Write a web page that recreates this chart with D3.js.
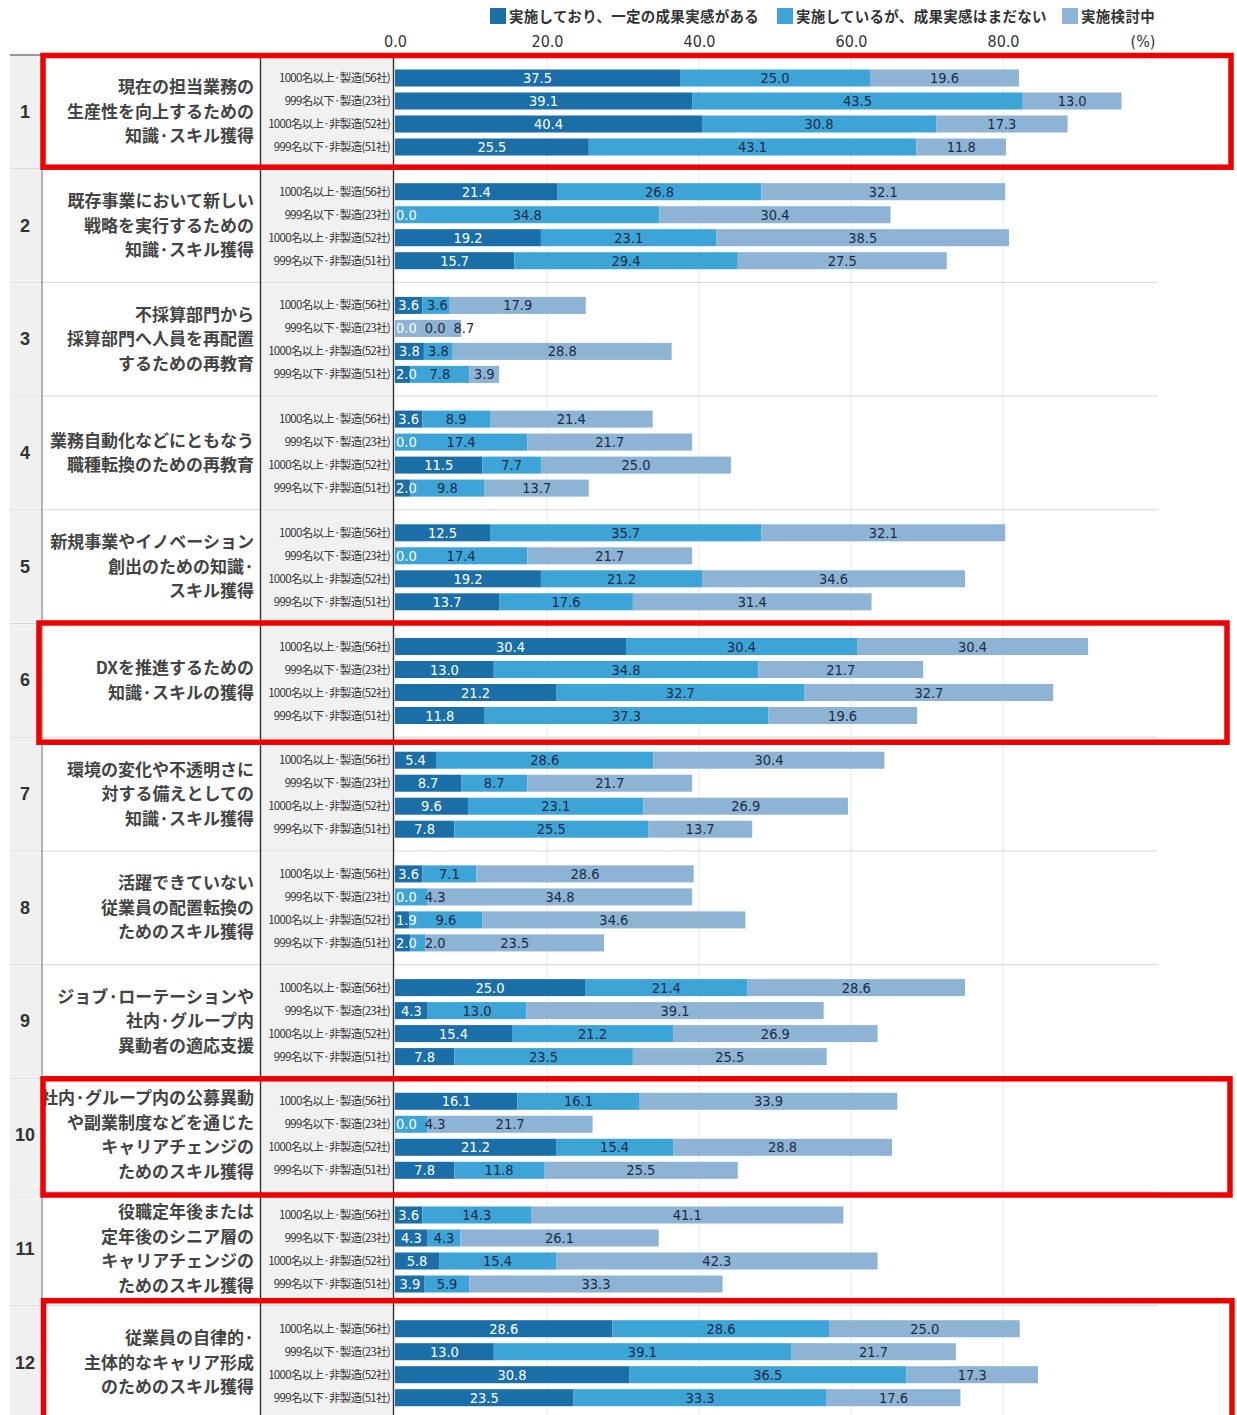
<!DOCTYPE html>
<html lang="ja">
<head>
<meta charset="utf-8">
<script src="https://cdn.jsdelivr.net/npm/d3@7"></script>
<style>
  html, body { margin: 0; padding: 0; background: #fff; }
  svg { display: block; }
  .num { font-family: "Liberation Sans Narrow", "DejaVu Sans Condensed", "Liberation Sans", sans-serif; }
  .jp { font-family: "Noto Sans CJK JP", "Noto Sans", sans-serif; }
</style>
</head>
<body>
<svg id="chart" width="1237" height="1415"></svg>
<script>
// Survey items (line-broken as displayed)
const categories = [
  ["現在の担当業務の", "生産性を向上するための", "知識·スキル獲得"],
  ["既存事業において新しい", "戦略を実行するための", "知識·スキル獲得"],
  ["不採算部門から", "採算部門へ人員を再配置", "するための再教育"],
  ["業務自動化などにともなう", "職種転換のための再教育"],
  ["新規事業やイノベーション", "創出のための知識·", "スキル獲得"],
  ["DXを推進するための", "知識·スキルの獲得"],
  ["環境の変化や不透明さに", "対する備えとしての", "知識·スキル獲得"],
  ["活躍できていない", "従業員の配置転換の", "ためのスキル獲得"],
  ["ジョブ·ローテーションや", "社内·グループ内", "異動者の適応支援"],
  ["社内·グループ内の公募異動", "や副業制度などを通じた", "キャリアチェンジの", "ためのスキル獲得"],
  ["役職定年後または", "定年後のシニア層の", "キャリアチェンジの", "ためのスキル獲得"],
  ["従業員の自律的·", "主体的なキャリア形成", "のためのスキル獲得"]
];

// Respondent segments
const subgroups = [
  "1000名以上·製造(56社)",
  "999名以下·製造(23社)",
  "1000名以上·非製造(52社)",
  "999名以下·非製造(51社)"
];

const seriesNames = [
  "実施しており、一定の成果実感がある",
  "実施しているが、成果実感はまだない",
  "実施検討中"
];

// Values (%) per item, one entry per segment
const achieved = [
  [37.5, 39.1, 40.4, 25.5],
  [21.4, 0.0, 19.2, 15.7],
  [3.6, 0.0, 3.8, 2.0],
  [3.6, 0.0, 11.5, 2.0],
  [12.5, 0.0, 19.2, 13.7],
  [30.4, 13.0, 21.2, 11.8],
  [5.4, 8.7, 9.6, 7.8],
  [3.6, 0.0, 1.9, 2.0],
  [25.0, 4.3, 15.4, 7.8],
  [16.1, 0.0, 21.2, 7.8],
  [3.6, 4.3, 5.8, 3.9],
  [28.6, 13.0, 30.8, 23.5]
];
const noResultYet = [
  [25.0, 43.5, 30.8, 43.1],
  [26.8, 34.8, 23.1, 29.4],
  [3.6, 0.0, 3.8, 7.8],
  [8.9, 17.4, 7.7, 9.8],
  [35.7, 17.4, 21.2, 17.6],
  [30.4, 34.8, 32.7, 37.3],
  [28.6, 8.7, 23.1, 25.5],
  [7.1, 4.3, 9.6, 2.0],
  [21.4, 13.0, 21.2, 23.5],
  [16.1, 4.3, 15.4, 11.8],
  [14.3, 4.3, 15.4, 5.9],
  [28.6, 39.1, 36.5, 33.3]
];
const considering = [
  [19.6, 13.0, 17.3, 11.8],
  [32.1, 30.4, 38.5, 27.5],
  [17.9, 8.7, 28.8, 3.9],
  [21.4, 21.7, 25.0, 13.7],
  [32.1, 21.7, 34.6, 31.4],
  [30.4, 21.7, 32.7, 19.6],
  [30.4, 21.7, 26.9, 13.7],
  [28.6, 34.8, 34.6, 23.5],
  [28.6, 39.1, 26.9, 25.5],
  [33.9, 21.7, 28.8, 25.5],
  [41.1, 26.1, 42.3, 33.3],
  [25.0, 21.7, 17.3, 17.6]
];

const tickValues = [0, 20, 40, 60, 80];
// Items outlined for emphasis
const highlighted = [0, 5, 9, 11];

const colors = ["#1b6fa9", "#3ca4d6", "#8db3d5"];
const labelColors = ["#ffffff", "#1e2b46", "#1e2b46"];

const svg = d3.select("#chart");

const x = d3.scaleLinear().domain([0, 80]).range([395, 1003]);
const groupStep = 113.7;
const y = d3.scaleBand()
  .domain(d3.range(categories.length))
  .range([55, 55 + groupStep * categories.length])
  .paddingInner(0).paddingOuter(0);
const ySub = d3.scaleBand()
  .domain(d3.range(subgroups.length))
  .range([11.5, 103.5])
  .paddingInner(0.26).paddingOuter(0.13);

const gridRight = 1158;

// Column backgrounds
const bg = svg.append("g");
categories.forEach((c, i) => {
  const top = y(i), h = y.bandwidth();
  bg.append("rect").attr("x", 10).attr("y", top + 1).attr("width", 31).attr("height", h - 2).attr("fill", "#f0f0f0");
  bg.append("rect").attr("x", 261).attr("y", top + 1).attr("width", 132).attr("height", h - 2).attr("fill", "#f1f1f1");
});

// Vertical gridlines
svg.append("g").selectAll("line").data(tickValues.slice(1)).join("line")
  .attr("x1", d => x(d)).attr("x2", d => x(d))
  .attr("y1", 55).attr("y2", 1415)
  .attr("stroke", "#e9e9e9").attr("stroke-width", 1);

// Group separators
svg.append("g").selectAll("line").data(d3.range(1, categories.length)).join("line")
  .attr("x1", 10).attr("x2", gridRight)
  .attr("y1", d => y(d)).attr("y2", d => y(d))
  .attr("stroke", "#d6d6d6").attr("stroke-width", 1);

// Column borders
svg.append("line").attr("x1", 10).attr("x2", gridRight).attr("y1", 55).attr("y2", 55).attr("stroke", "#333").attr("stroke-width", 1.2);
[42, 260.5, 393.5].forEach((xx, k) => {
  svg.append("line").attr("x1", xx).attr("x2", xx).attr("y1", 55).attr("y2", 1415)
    .attr("stroke", k === 0 ? "#666" : "#333").attr("stroke-width", k === 0 ? 1 : 1.4);
});

// Top axis
const axis = d3.axisTop(x).tickValues(tickValues).tickFormat(d3.format(".1f")).tickSize(0).tickPadding(0);
const axisG = svg.append("g").attr("transform", "translate(0,47)").call(axis);
axisG.select(".domain").remove();
axisG.selectAll("text").attr("class", "num").attr("font-size", 16).attr("fill", "#333");
svg.append("text").attr("class", "num").attr("x", 1143).attr("y", 47).attr("text-anchor", "middle")
  .attr("font-size", 16).attr("fill", "#333").text("(%)");

// Legend
const legendX = [490, 777, 1062];
const legend = svg.append("g");
seriesNames.forEach((name, k) => {
  legend.append("rect").attr("x", legendX[k]).attr("y", 8).attr("width", 16).attr("height", 16).attr("fill", colors[k]);
  legend.append("text").attr("class", "jp").attr("x", legendX[k] + 19).attr("y", 21.5)
    .attr("font-size", 14.5).attr("font-weight", 700).attr("fill", "#333")
    .attr("letter-spacing", 0.3).text(name);
});

// Item numbers and labels
const rows = svg.append("g");
categories.forEach((lines, i) => {
  const cy = y(i) + y.bandwidth() / 2;
  rows.append("text").attr("x", 25).attr("y", cy + 6)
    .attr("text-anchor", "middle").attr("font-size", 18).attr("font-weight", 700).attr("fill", "#333")
    .style("font-family", "'Liberation Sans', sans-serif").text(i + 1);
  const lh = 24.5;
  lines.forEach((ln, k) => {
    rows.append("text").attr("class", "jp").attr("x", 254)
      .attr("y", cy + (k - (lines.length - 1) / 2) * lh + 6)
      .attr("text-anchor", "end").attr("font-size", 17).attr("font-weight", 700).attr("fill", "#444")
      .text(ln);
  });
  subgroups.forEach((s, j) => {
    const sy = y(i) + ySub(j) + ySub.bandwidth() / 2;
    rows.append("text").attr("class", "jp").attr("x", 390).attr("y", sy + 4)
      .attr("text-anchor", "end").attr("font-size", 11.5).attr("fill", "#333")
      .attr("letter-spacing", -0.7).text(s);
  });
});

// Stacked bars: segments first, then their value labels on top
const series = [achieved, noResultYet, considering];
const segG = svg.append("g");
const labG = svg.append("g");
categories.forEach((c, i) => {
  subgroups.forEach((s, j) => {
    const top = y(i) + ySub(j);
    const h = ySub.bandwidth();
    let acc = 0;
    let cursor = x(0) + 1;
    series.forEach((ser, k) => {
      const v = ser[i][j];
      const x0 = x(acc), x1 = x(acc + v);
      acc += v;
      segG.append("rect").attr("x", x0).attr("y", top).attr("width", Math.max(0, x1 - x0)).attr("height", h)
        .attr("fill", colors[k]);
      const t = labG.append("text").attr("class", "num")
        .attr("y", top + h / 2 + 5).attr("text-anchor", "middle")
        .attr("font-size", 14.5).attr("fill", labelColors[k]).text(d3.format(".1f")(v));
      const w = t.node().getComputedTextLength();
      const cx = Math.max((x0 + x1) / 2, cursor + w / 2);
      t.attr("x", cx);
      cursor = cx + w / 2 + 8;
    });
  });
});

// Emphasis outlines
const boxInsets = {
  0: { l: 43, r: 1231, t: 0.5, b: -1.5 },
  5: { l: 39, r: 1227, t: -0.5, b: 5 },
  9: { l: 43, r: 1230, t: 0.5, b: 3 },
  11: { l: 43.5, r: 1232, t: -5, b: 20 }
};
svg.append("g").selectAll("rect").data(highlighted).join("rect")
  .attr("x", d => boxInsets[d].l)
  .attr("y", d => y(d) + boxInsets[d].t)
  .attr("width", d => boxInsets[d].r - boxInsets[d].l)
  .attr("height", d => y.bandwidth() + boxInsets[d].b - boxInsets[d].t)
  .attr("fill", "none").attr("stroke", "#ee0000").attr("stroke-width", 5.5);
</script>
</body>
</html>
